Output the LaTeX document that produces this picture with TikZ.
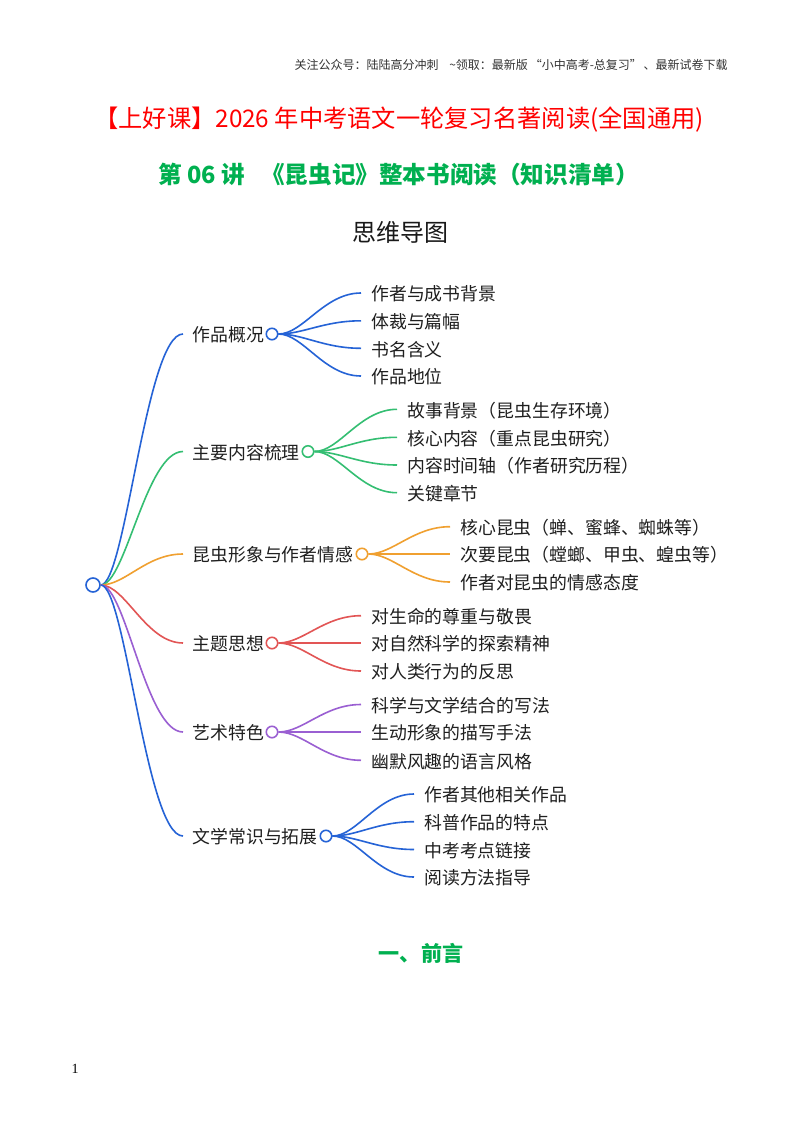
\documentclass[tikz,border=0pt]{standalone}
\usepackage{fontspec}
\usetikzlibrary{calc}
\setmainfont{Noto Sans CJK SC}
\newfontfamily\serifnum{Liberation Serif}
\definecolor{cblue}{HTML}{2563D6}
\definecolor{cgreen}{HTML}{34BE72}
\definecolor{corange}{HTML}{F0A030}
\definecolor{cred}{HTML}{E25555}
\definecolor{cpurple}{HTML}{9A5FD2}
\definecolor{tred}{HTML}{FF0000}
\definecolor{tgreen}{HTML}{00B050}
\newcommand{\flp}{\char"FF08\relax}
\newcommand{\frp}{\char"FF09\relax}
\newcommand{\fcl}{\char"FF1A\relax}
\newcommand{\lnk}[3]{\draw[#1,line width=1.2pt] let \p1=(#2.east),\p2=(#3.west) in (\p1) .. controls ({0.7*\x1+0.3*\x2},\y1) and ({0.45*\x1+0.55*\x2},\y2) .. (\p2);}
\tikzset{
  dot/.style={circle,draw=#1,line width=1.2pt,fill=white,minimum size=8.6pt,inner sep=0pt},
  item/.style={anchor=west,inner sep=0pt,inner xsep=7.5pt,text height=13pt,text depth=1.2pt,font=\fontsize{13.4pt}{15pt}\selectfont,text=black!88},
  heading/.style={inner sep=0pt}
}
\begin{document}
\begin{tikzpicture}[x=0.75pt,y=-0.75pt]
\useasboundingbox (0,0) rectangle (800,1132);
\fill[white] (0,0) rectangle (800,1132);
\node[heading,anchor=east,font=\fontsize{9pt}{10pt}\selectfont,text=black!80] (hdr) at (728,65) {关注公众号\fcl 陆陆高分冲刺\hspace{0.9em}\textasciitilde 领取\fcl 最新版\hspace{0.15em}“小中高考-总复习”\hspace{0.15em}、最新试卷下载};
\node[heading,font=\fontsize{18.2pt}{22pt}\selectfont,text=tred] (title) at (399,120) {【上好课】2026 年中考语文一轮复习名著阅读(全国通用)};
\node[heading,font=\fontsize{17.7pt}{22pt}\selectfont\bfseries,text=tgreen] (sub) at (398.5,175) {第 06 讲\hspace{0.7em}《昆虫记》整本书阅读\flp 知识清单\frp};
\node[heading,font=\fontsize{18pt}{22pt}\selectfont,text=black!90] (map) at (400,232) {思维导图};
\node[heading,font=\fontsize{15.8pt}{18pt}\selectfont\bfseries,text=tgreen] (pre) at (421,953) {一、前言};
\node[heading,font=\fontsize{10.5pt}{12pt}\selectfont\serifnum,text=black] (pg) at (75,1069) {1};

\node[dot=cblue,minimum size=10.5pt] (root) at (93,585) {};

\node[item,inner xsep=7pt] (a) at (183,334) {作品概况};
\node[item,inner xsep=7pt] (b) at (183,451.5) {主要内容梳理};
\node[item,inner xsep=7pt] (c) at (183,554) {昆虫形象与作者情感};
\node[item,inner xsep=7pt] (d) at (183,643) {主题思想};
\node[item,inner xsep=7pt] (e) at (183,732) {艺术特色};
\node[item,inner xsep=7pt] (f) at (183,836) {文学常识与拓展};

\node[dot=cblue] (ca) at (272,334) {};
\node[dot=cgreen] (cb) at (308,451.5) {};
\node[dot=corange] (cc) at (362,554) {};
\node[dot=cred] (cd) at (272,643) {};
\node[dot=cpurple] (ce) at (272,732) {};
\node[dot=cblue] (cf) at (326,836) {};

\node[item] (a1) at (361,293) {作者与成书背景};
\node[item] (a2) at (361,320.8) {体裁与篇幅};
\node[item] (a3) at (361,348.3) {书名含义};
\node[item] (a4) at (361,376) {作品地位};
\node[item] (b1) at (397,409.3) {故事背景\flp 昆虫生存环境\frp};
\node[item] (b2) at (397,437.3) {核心内容\flp 重点昆虫研究\frp};
\node[item] (b3) at (397,465) {内容时间轴\flp 作者研究历程\frp};
\node[item] (b4) at (397,492.7) {关键章节};
\node[item] (c1) at (450,526.7) {核心昆虫\flp 蝉、蜜蜂、蜘蛛等\frp};
\node[item] (c2) at (450,554) {次要昆虫\flp 螳螂、甲虫、蝗虫等\frp};
\node[item] (c3) at (450,582) {作者对昆虫的情感态度};
\node[item] (d1) at (361,615.7) {对生命的尊重与敬畏};
\node[item] (d2) at (361,643) {对自然科学的探索精神};
\node[item] (d3) at (361,671) {对人类行为的反思};
\node[item] (e1) at (361,704.5) {科学与文学结合的写法};
\node[item] (e2) at (361,732) {生动形象的描写手法};
\node[item] (e3) at (361,760.3) {幽默风趣的语言风格};
\node[item] (f1) at (414,794) {作者其他相关作品};
\node[item] (f2) at (414,821.7) {科普作品的特点};
\node[item] (f3) at (414,849.5) {中考考点链接};
\node[item] (f4) at (414,877) {阅读方法指导};

\foreach \t/\col in {a/cblue,b/cgreen,c/corange,d/cred,e/cpurple,f/cblue}{
  \lnk{\col}{root}{\t}
}
\foreach \t in {a1,a2,a3,a4}{\lnk{cblue}{ca}{\t}}
\foreach \t in {b1,b2,b3,b4}{\lnk{cgreen}{cb}{\t}}
\foreach \t in {c1,c2,c3}{\lnk{corange}{cc}{\t}}
\foreach \t in {d1,d2,d3}{\lnk{cred}{cd}{\t}}
\foreach \t in {e1,e2,e3}{\lnk{cpurple}{ce}{\t}}
\foreach \t in {f1,f2,f3,f4}{\lnk{cblue}{cf}{\t}}
\end{tikzpicture}
\end{document}
